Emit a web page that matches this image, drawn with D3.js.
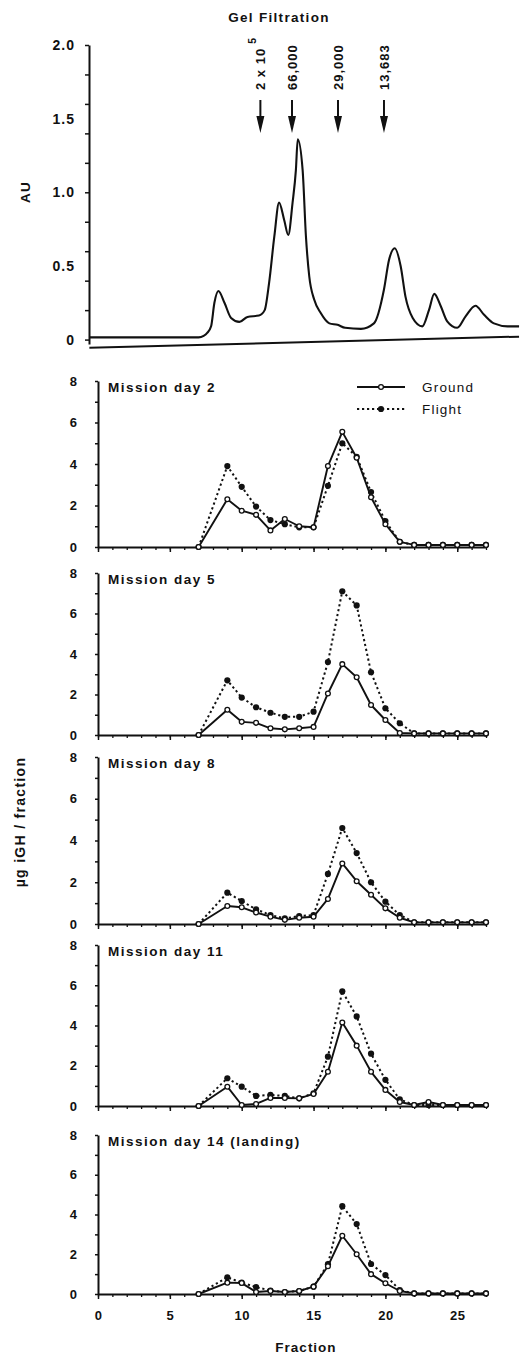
<!DOCTYPE html>
<html>
<head>
<meta charset="utf-8">
<script src="https://cdn.jsdelivr.net/npm/d3@7"></script>
<style>
  body { margin: 0; background: #fff; }
  text { font-family: "Liberation Sans", Arial, Helvetica, sans-serif; fill: #111; }
</style>
</head>
<body>
<svg id="chart" width="521" height="1355"></svg>
<script>
// ---------- Data ----------
// Gel filtration absorbance trace (fraction, AU)
const chromFraction = [-0.6, 2, 5, 7.0, 7.35, 7.6, 7.87, 8.1, 8.38, 8.8, 9.26, 9.84, 10.4, 11.2, 11.6, 11.9, 12.27, 12.6, 12.96, 13.24,
  13.54, 13.77, 13.9, 14.24, 14.47, 14.7, 15.05, 15.5, 16.1, 16.67, 17.2, 18.3, 19.2, 19.9, 20.25, 20.65, 21.06, 21.4, 21.9,
  22.57, 23.03, 23.4, 23.84, 24.3, 25.0, 25.58, 26.27, 26.85, 27.55, 28.5, 29.3];
const chromAU = [0.015, 0.015, 0.015, 0.015, 0.025, 0.045, 0.09, 0.25, 0.33, 0.25, 0.147, 0.12, 0.154, 0.163, 0.2, 0.38, 0.70, 0.93, 0.81, 0.71,
  0.93, 1.15, 1.36, 1.15, 0.70, 0.43, 0.27, 0.18, 0.11, 0.10, 0.08, 0.073, 0.11, 0.34, 0.54, 0.62, 0.50, 0.29, 0.147,
  0.09, 0.2, 0.31, 0.23, 0.124, 0.08, 0.158, 0.23, 0.17, 0.11, 0.09, 0.09];
// Recorder baseline under the trace
const baselineFraction = [-0.6, 29.3];
const baselineAU = [-0.055, 0.02];

// Molecular-weight standards
const standardFraction = [11.3, 13.5, 16.7, 19.9];
const standardLabels = ["2 x 10", "66,000", "29,000", "13,683"];
const standardExponent = ["5", "", "", ""];

// Immunoreactive GH per fraction
const fractions = [7, 9, 10, 11, 12, 13, 14, 15, 16, 17, 18, 19, 20, 21, 22, 23, 24, 25, 26, 27];
const panelTitles = ["Mission day 2", "Mission day 5", "Mission day 8", "Mission day 11", "Mission day 14 (landing)"];

const groundDay2  = [0, 2.3, 1.75, 1.55, 0.8, 1.35, 1.0, 0.95, 3.9, 5.55, 4.3, 2.4, 1.1, 0.25, 0.1, 0.1, 0.1, 0.1, 0.1, 0.1];
const flightDay2  = [0, 3.9, 2.9, 1.95, 1.3, 1.1, 0.95, 0.95, 2.95, 5.0, 4.35, 2.65, 1.25, 0.25, 0.1, 0.1, 0.1, 0.1, 0.1, 0.1];
const groundDay5  = [0, 1.25, 0.65, 0.6, 0.33, 0.28, 0.33, 0.4, 2.05, 3.5, 2.85, 1.48, 0.74, 0.1, 0.08, 0.08, 0.08, 0.08, 0.08, 0.08];
const flightDay5  = [0, 2.7, 1.85, 1.37, 1.1, 0.9, 0.9, 1.15, 3.6, 7.1, 6.4, 3.1, 1.32, 0.58, 0.08, 0.08, 0.08, 0.08, 0.08, 0.08];
const groundDay8  = [0, 0.86, 0.8, 0.55, 0.35, 0.2, 0.3, 0.35, 1.2, 2.9, 2.05, 1.4, 0.75, 0.3, 0.08, 0.08, 0.08, 0.08, 0.08, 0.08];
const flightDay8  = [0, 1.5, 1.1, 0.7, 0.43, 0.27, 0.38, 0.43, 2.4, 4.6, 3.4, 2.0, 1.07, 0.43, 0.08, 0.08, 0.08, 0.08, 0.08, 0.08];
const groundDay11 = [0, 0.96, 0.05, 0.1, 0.4, 0.4, 0.38, 0.6, 1.7, 4.15, 3.0, 1.7, 0.8, 0.2, 0.05, 0.2, 0.05, 0.05, 0.05, 0.05];
const flightDay11 = [0, 1.38, 0.96, 0.5, 0.55, 0.5, 0.38, 0.63, 2.45, 5.7, 4.45, 2.6, 1.3, 0.33, 0.05, 0.05, 0.05, 0.05, 0.05, 0.05];
const groundDay14 = [0, 0.57, 0.55, 0.1, 0.15, 0.1, 0.15, 0.37, 1.4, 2.93, 2.0, 1.0, 0.54, 0.15, 0.03, 0.03, 0.03, 0.03, 0.03, 0.03];
const flightDay14 = [0, 0.84, 0.57, 0.35, 0.17, 0.1, 0.15, 0.37, 1.5, 4.42, 3.52, 1.51, 0.95, 0.2, 0.03, 0.03, 0.03, 0.03, 0.03, 0.03];

const fractionTicks = [0, 5, 10, 15, 20, 25];
const auTickLabels = [0, 0.5, 1.0, 1.5, 2.0];
const ghTickLabels = [0, 2, 4, 6, 8];

// ---------- Layout ----------
const svg = d3.select("#chart");
const x = d3.scaleLinear().domain([0, 27]).range([98, 486]);
const ink = "#111";

const panels = [
  { title: panelTitles[0], ground: groundDay2,  flight: flightDay2,  top: 381,  bottom: 547 },
  { title: panelTitles[1], ground: groundDay5,  flight: flightDay5,  top: 573,  bottom: 735 },
  { title: panelTitles[2], ground: groundDay8,  flight: flightDay8,  top: 757,  bottom: 924 },
  { title: panelTitles[3], ground: groundDay11, flight: flightDay11, top: 945,  bottom: 1106 },
  { title: panelTitles[4], ground: groundDay14, flight: flightDay14, top: 1135, bottom: 1294 }
];

function styleLabels(sel, size, spacing) {
  sel.selectAll("text").attr("font-size", size).attr("font-weight", "bold")
    .attr("letter-spacing", spacing)
    .style("font-family", "'Liberation Sans', Arial, sans-serif").attr("fill", ink);
}

// ---------- Gel filtration panel ----------
const yAU = d3.scaleLinear().domain([-0.03, 2]).range([344, 45]);
const auAxisX = 89;

const auAxis = svg.append("g").attr("transform", `translate(${auAxisX},0)`)
  .call(d3.axisLeft(yAU).tickValues(d3.range(0, 2.01, 0.2)).tickSize(4).tickSizeOuter(0).tickFormat(""));
auAxis.select(".domain").attr("stroke", ink).attr("stroke-width", 2);
auAxis.selectAll(".tick line").attr("stroke", ink).attr("stroke-width", 1.5);

const auLabels = svg.append("g").attr("transform", `translate(${auAxisX},0)`)
  .call(d3.axisLeft(yAU).tickValues(auTickLabels).tickSize(0).tickPadding(14)
    .tickFormat(d => d === 0 ? "0" : d3.format(".1f")(d)));
auLabels.select(".domain").remove();
styleLabels(auLabels, 14, 1);

svg.append("text").attr("transform", "translate(25,192) rotate(-90)")
  .attr("text-anchor", "middle").attr("dy", "0.35em")
  .attr("font-size", 13.5).attr("font-weight", "bold").attr("letter-spacing", 1.2).text("AU");

svg.append("text").attr("x", 279).attr("y", 22).attr("text-anchor", "middle")
  .attr("font-size", 13.5).attr("font-weight", "bold").attr("letter-spacing", 1.3).text("Gel Filtration");

// baseline
svg.append("path")
  .datum(baselineFraction.map((f, i) => [f, baselineAU[i]]))
  .attr("d", d3.line().x(d => x(d[0])).y(d => yAU(d[1])))
  .attr("fill", "none").attr("stroke", ink).attr("stroke-width", 2);

// absorbance trace
svg.append("path")
  .datum(chromFraction.map((f, i) => [f, chromAU[i]]))
  .attr("d", d3.line().x(d => x(d[0])).y(d => yAU(d[1])).curve(d3.curveMonotoneX))
  .attr("fill", "none").attr("stroke", ink).attr("stroke-width", 2.1).attr("stroke-linejoin", "round");

// standards: arrows and rotated labels
const std = svg.append("g").selectAll("g").data(standardFraction).join("g")
  .attr("transform", d => `translate(${x(d)},0)`);
std.append("line").attr("x1", 0).attr("x2", 0).attr("y1", 100).attr("y2", 122)
  .attr("stroke", ink).attr("stroke-width", 2);
std.append("path").attr("d", "M-4,116 L4,116 L0,133 Z").attr("fill", ink);
const stdText = std.append("text")
  .attr("transform", "translate(0,90) rotate(-90)")
  .attr("dy", "0.36em")
  .attr("font-size", 13).attr("font-weight", "bold").attr("letter-spacing", 1);
stdText.append("tspan").text((d, i) => standardLabels[i]);
stdText.append("tspan").attr("dy", "-0.9em").attr("dx", "4").attr("font-size", 10.5)
  .text((d, i) => standardExponent[i]);

// ---------- GH panels ----------
panels.forEach((p, idx) => {
  const y = d3.scaleLinear().domain([0, 8]).range([p.bottom, p.top]);
  const g = svg.append("g");

  // y axis
  const ya = g.append("g").attr("transform", `translate(${x(0)},0)`)
    .call(d3.axisLeft(y).tickValues(d3.range(0, 9)).tickSize(3).tickSizeOuter(0).tickFormat(""));
  ya.select(".domain").attr("stroke", ink).attr("stroke-width", 2);
  ya.selectAll(".tick line").attr("stroke", ink).attr("stroke-width", 1.5);
  const yl = g.append("g").attr("transform", `translate(${x(0)},0)`)
    .call(d3.axisLeft(y).tickValues(ghTickLabels).tickSize(0).tickPadding(21));
  yl.select(".domain").remove();
  styleLabels(yl, 13, 0);

  // x axis
  const xa = g.append("g").attr("transform", `translate(0,${p.bottom})`)
    .call(d3.axisBottom(x).tickValues(d3.range(0, 28)).tickSize(3).tickSizeOuter(0).tickFormat(""));
  xa.select(".domain").attr("stroke", ink).attr("stroke-width", 2);
  xa.selectAll(".tick line").attr("stroke", ink).attr("stroke-width", 1.3);
  const xm = g.append("g").attr("transform", `translate(0,${p.bottom})`)
    .call(d3.axisBottom(x).tickValues(fractionTicks).tickSize(5).tickPadding(12)
      .tickFormat(idx === panels.length - 1 ? d3.format("d") : ""));
  xm.select(".domain").remove();
  xm.selectAll(".tick line").attr("stroke", ink).attr("stroke-width", 1.5);
  styleLabels(xm, 13, 0.5);

  // title
  g.append("text").attr("x", 108).attr("y", p.top + 11)
    .attr("font-size", 13.5).attr("font-weight", "bold").attr("letter-spacing", 1.5).text(p.title);

  const line = d3.line().x(d => x(d[0])).y(d => y(d[1]));
  const fl = fractions.map((f, i) => [f, p.flight[i]]);
  const gr = fractions.map((f, i) => [f, p.ground[i]]);

  g.append("path").datum(fl).attr("d", line).attr("fill", "none")
    .attr("stroke", ink).attr("stroke-width", 2).attr("stroke-dasharray", "2.2,2.8");
  g.append("path").datum(gr).attr("d", line).attr("fill", "none")
    .attr("stroke", ink).attr("stroke-width", 1.9).attr("stroke-linejoin", "round");

  g.append("g").selectAll("circle").data(fl).join("circle")
    .attr("cx", d => x(d[0])).attr("cy", d => y(d[1])).attr("r", 3.1).attr("fill", ink);
  g.append("g").selectAll("circle").data(gr).join("circle")
    .attr("cx", d => x(d[0])).attr("cy", d => y(d[1])).attr("r", 2.4)
    .attr("fill", "#fff").attr("stroke", ink).attr("stroke-width", 1.3);
});

// legend
const legend = svg.append("g");
legend.append("line").attr("x1", 357).attr("x2", 405).attr("y1", 387).attr("y2", 387)
  .attr("stroke", ink).attr("stroke-width", 1.9);
legend.append("circle").attr("cx", 381).attr("cy", 387).attr("r", 2.4)
  .attr("fill", "#fff").attr("stroke", ink).attr("stroke-width", 1.3);
legend.append("text").attr("x", 422).attr("y", 391.5).attr("font-size", 13.5)
  .attr("letter-spacing", 1.2).text("Ground");
legend.append("line").attr("x1", 357).attr("x2", 405).attr("y1", 409).attr("y2", 409)
  .attr("stroke", ink).attr("stroke-width", 2).attr("stroke-dasharray", "2.2,2.8");
legend.append("circle").attr("cx", 381).attr("cy", 409).attr("r", 3.1).attr("fill", ink);
legend.append("text").attr("x", 422).attr("y", 413.5).attr("font-size", 13.5)
  .attr("letter-spacing", 1.2).text("Flight");

// axis titles
svg.append("text").attr("x", 306).attr("y", 1352).attr("text-anchor", "middle")
  .attr("font-size", 13.5).attr("font-weight", "bold").attr("letter-spacing", 1).text("Fraction");
svg.append("text").attr("transform", "translate(20,822) rotate(-90)")
  .attr("text-anchor", "middle").attr("dy", "0.35em")
  .attr("font-size", 14).attr("font-weight", "bold").attr("letter-spacing", 1.3).text("µg iGH / fraction");
</script>
</body>
</html>
